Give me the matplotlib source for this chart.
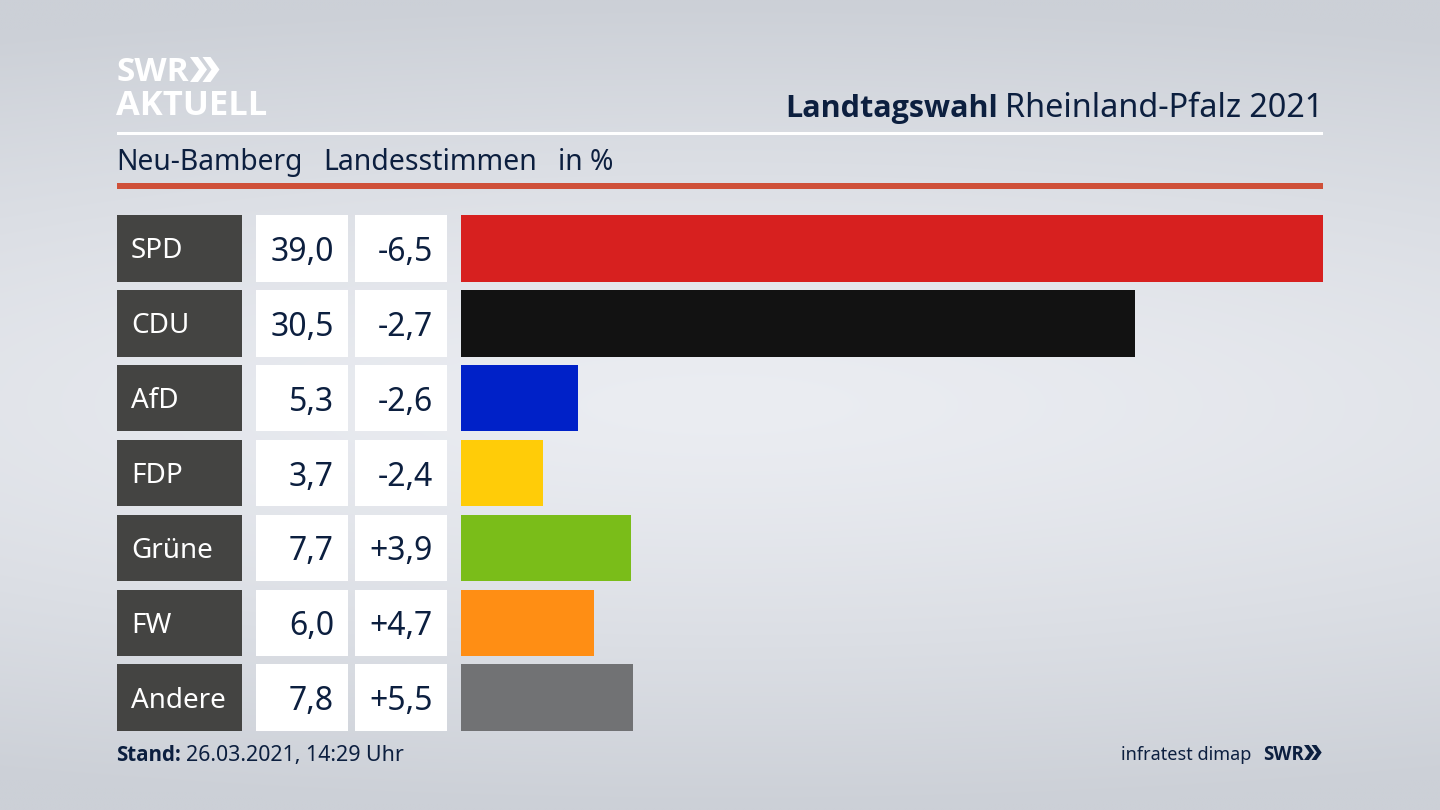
import numpy as np
import matplotlib
matplotlib.use('Agg')
import matplotlib.pyplot as plt
from matplotlib.patches import Rectangle, Polygon

plt.rcParams['font.family'] = ['Noto Sans', 'DejaVu Sans']
bold_font = ['Open Sans', 'Liberation Sans']

parties = ['SPD', 'CDU', 'AfD', 'FDP', 'Grüne', 'FW', 'Andere']
shares = [39.0, 30.5, 5.3, 3.7, 7.7, 6.0, 7.8]
changes = ['-6,5', '-2,7', '-2,6', '-2,4', '+3,9', '+4,7', '+5,5']
share_labels = ['39,0', '30,5', '5,3', '3,7', '7,7', '6,0', '7,8']
colors = ['#d7201f', '#121212', '#0021c8', '#ffcc08', '#7abd19', '#ff8e14', '#717274']

navy = '#0c1f3f'
W, H = 1440, 810
fig = plt.figure(figsize=(14.4, 8.1), dpi=100)

# pixel coordinate layer for background and frame
bg = fig.add_axes([0, 0, 1, 1])
bg.set_xlim(0, W)
bg.set_ylim(H, 0)
bg.axis('off')

yy = np.linspace(0, 1, 200)
xx = np.linspace(0, 1, 320)
gx, gy = np.meshgrid(xx, yy)
d = np.sqrt(((gx - 0.5) / 1.3) ** 2 + ((gy - 0.5) / 0.5) ** 2)
t = np.clip(d, 0, 1) ** 1.3
c0 = np.array([235, 237, 242]) / 255
c1 = np.array([204, 208, 215]) / 255
grad = c0 + (c1 - c0) * t[..., None]
bg.imshow(grad, extent=[0, W, H, 0], aspect='auto', zorder=0, interpolation='bilinear')


def chevrons(x, y, h, color):
    w = h * 0.36
    th = h * 0.32
    for k in range(2):
        x0 = x + k * h * 0.5
        bg.add_patch(Polygon([(x0, y), (x0 + th, y), (x0 + th + w, y + h / 2),
                              (x0 + th, y + h), (x0, y + h), (x0 + w, y + h / 2)],
                             closed=True, fc=color, ec='none', zorder=3))


# logo
bg.text(117, 81, 'SWR', color='white', fontsize=24, fontweight='bold', family=bold_font, va='baseline', zorder=3)
chevrons(190, 57, 25, 'white')
bg.text(116, 115, 'AKTUELL', color='white', fontsize=24.8, fontweight='bold', family=bold_font, va='baseline', zorder=3)

# header
bg.text(1323, 117, 'Rheinland-Pfalz 2021', color=navy, fontsize=23.3, ha='right', va='baseline')
bg.text(997.5, 117, 'Landtagswahl', color=navy, fontsize=22, fontweight='bold', family=bold_font, ha='right', va='baseline')
bg.add_patch(Rectangle((117, 132), 1206, 3, fc='white', ec='none'))
bg.text(116, 170, 'Neu-Bamberg', color=navy, fontsize=20.3, va='baseline')
bg.text(323, 170, 'Landesstimmen', color=navy, fontsize=20.5, va='baseline')
bg.text(558, 170, 'in %', color=navy, fontsize=20.3, va='baseline')
bg.add_patch(Rectangle((117, 183), 1206, 6, fc='#cf5039', ec='none'))

# rows
row_top = 215
row_h = 66.6
row_step = 74.9
for i, p in enumerate(parties):
    top = row_top + i * row_step
    mid = top + row_h / 2
    bg.add_patch(Rectangle((117, top), 125, row_h, fc='#444442', ec='none'))
    bg.add_patch(Rectangle((256, top), 92, row_h, fc='white', ec='none'))
    bg.add_patch(Rectangle((355, top), 92, row_h, fc='white', ec='none'))
    bg.text(131, mid - 0.5, p, color='white', fontsize=20, va='center_baseline')
    bg.text(334, mid, share_labels[i], color=navy, fontsize=23, ha='right', va='center_baseline')
    bg.text(433, mid, changes[i], color=navy, fontsize=23, ha='right', va='center_baseline')

# footer
bg.text(116, 761, 'Stand:', color=navy, fontsize=14.8, fontweight='bold', family=bold_font, va='baseline')
bg.text(186, 761, '26.03.2021, 14:29 Uhr', color=navy, fontsize=15.4, va='baseline')
bg.text(1251, 760, 'infratest dimap', color=navy, fontsize=13, ha='right', va='baseline')
bg.text(1263, 760, 'SWR', color=navy, fontsize=13.5, fontweight='bold', family=bold_font, va='baseline')
chevrons(1304, 745, 15, navy)

# bars on their own data axes
x0, x1 = 461, 1323
y_top, y_bot = row_top, row_top + 6 * row_step + row_h
ax = fig.add_axes([x0 / W, 1 - y_bot / H, (x1 - x0) / W, (y_bot - y_top) / H])
ax.patch.set_alpha(0)
bar_h = row_h / row_step
ax.barh(range(len(parties)), shares, height=bar_h, color=colors)
ax.set_xlim(0, 39.0)
ax.set_ylim(6 + bar_h / 2, -bar_h / 2)
ax.axis('off')

fig.savefig('out.png', dpi=100)
